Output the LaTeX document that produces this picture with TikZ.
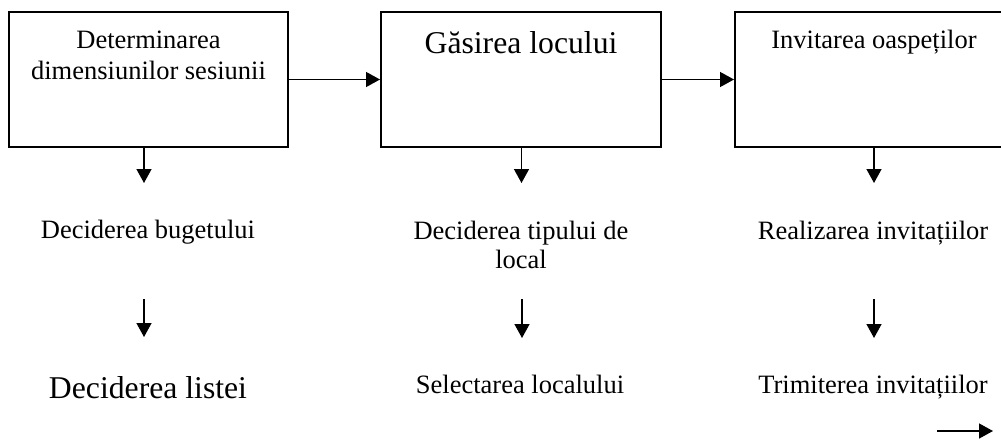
\documentclass[tikz,border=0pt]{standalone}
\usepackage{fontspec}
\setmainfont{Liberation Serif}
\usetikzlibrary{arrows.meta}

\tikzset{
  stage/.style={draw, line width=1pt, inner sep=0pt},
  lbl/.style={inner sep=0pt, font=\fontsize{13.25}{15.5}\selectfont},
  biglbl/.style={inner sep=0pt, font=\fontsize{15.85}{19}\selectfont},
  flow/.style={line width=0.7pt, -{Triangle[length=7pt,width=7.5pt]}}
}

\begin{document}
\begin{tikzpicture}[x=0.5pt,y=-0.5pt]
\useasboundingbox (0,0) rectangle (1001,439);
% top row
\node[stage] (det) at (148.5,79.5) {\parbox[c][67.5pt][t]{139.5pt}{\centering\fontsize{13.25}{15.5}\selectfont\rule{0pt}{18pt}Determinarea\\dimensiunilor sesiunii}};
\node[stage] (loc) at (521,79.5) {\parbox[c][67.5pt][t]{140pt}{\centering\fontsize{15.85}{19}\selectfont\rule{0pt}{20.5pt}Găsirea locului}};
\node[stage] (inv) at (874,79.5) {\parbox[c][67.5pt][t]{139pt}{\centering\fontsize{13.25}{15.5}\selectfont\rule{0pt}{18pt}Invitarea oaspeților}};
\draw[flow] (det.east) -- (loc.west);
\draw[flow] (loc.east) -- (inv.west);
\coordinate (d1) at (144,183);
\coordinate (d2) at (521.5,183);
\coordinate (d3) at (874,183);
\draw[flow] (det.south -| d1) -- (d1);
\draw[flow] (loc.south -| d2) -- (d2);
\draw[flow] (inv.south -| d3) -- (d3);
% middle row
\node[lbl, anchor=base] (buget) at (148,238) {Deciderea bugetului};
\node[lbl, anchor=north, align=center, font=\fontsize{13.25}{14.5}\selectfont] (tip) at (521,221) {Deciderea tipului de\\local};
\node[lbl, anchor=base] (real) at (873,239) {Realizarea invitațiilor};
\coordinate (a1) at (144,299);
\coordinate (b1) at (144,337);
\coordinate (a2) at (522,299);
\coordinate (b2) at (522,338);
\coordinate (a3) at (874,299);
\coordinate (b3) at (874,338);
\draw[flow] (a1) -- (b1);
\draw[flow] (a2) -- (b2);
\draw[flow] (a3) -- (b3);
% bottom row
\node[biglbl, anchor=base] (lista) at (148,398) {Deciderea listei};
\node[lbl, anchor=base] (sel) at (520,393) {Selectarea localului};
\node[lbl, anchor=base] (trim) at (873,393) {Trimiterea invitațiilor};
\coordinate (e1) at (937,431);
\coordinate (e2) at (993,431);
\draw[flow] (e1) -- (e2);
\end{tikzpicture}
\end{document}
